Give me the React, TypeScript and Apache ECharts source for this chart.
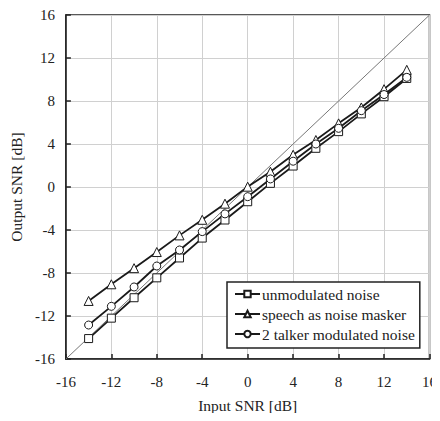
import React, { useEffect, useRef } from "react";
import * as echarts from "echarts";

const inputSNR = [-14, -12, -10, -8, -6, -4, -2, 0, 2, 4, 6, 8, 10, 12, 14];
const unmodulated = [-14.1, -12.2, -10.3, -8.45, -6.6, -4.75, -3.07, -1.37, 0.34, 1.95, 3.6, 5.15, 6.8, 8.4, 10.1];
const speechMasker = [-10.6, -9.05, -7.55, -6.05, -4.5, -3.05, -1.55, 0.03, 1.42, 3.0, 4.37, 5.92, 7.4, 9.1, 10.9];
const twoTalker = [-12.84, -11.1, -9.3, -7.35, -5.86, -4.15, -2.5, -0.9, 0.75, 2.4, 4.0, 5.46, 7.1, 8.6, 10.2];
const diagonal = [-16, 16];

const seriesNames = ["unmodulated noise", "speech as noise masker", "2 talker modulated noise"];

const FONT = "'Liberation Serif', 'Times New Roman', Times, serif";

export default function App() {
  const ref = useRef<HTMLDivElement>(null);
  useEffect(() => {
    if (!ref.current) return;
    const chart = echarts.init(ref.current, null, { renderer: "svg" });
    const pair = (ys: number[]) => inputSNR.map((x, i) => [x, ys[i]]);
    const mk = (name: string, ys: number[], symbol: string) => ({
      name,
      type: "line",
      data: pair(ys),
      symbol,
      symbolSize: symbol === "triangle" ? 9 : 8,
      showSymbol: true,
      lineStyle: { color: "#1a1a1a", width: 1.8 },
      itemStyle: { color: "#ffffff", borderColor: "#1a1a1a", borderWidth: 1 },
      z: 3,
    });
    const axisCommon = {
      type: "value",
      min: -16,
      max: 16,
      interval: 4,
      nameLocation: "middle",
      nameTextStyle: { fontFamily: FONT, fontSize: 15.5, color: "#222" },
      axisLine: { show: true, onZero: false, lineStyle: { color: "#222", width: 1.5 } },
      axisTick: { show: true, inside: true, length: 5, lineStyle: { color: "#222", width: 1.5 } },
      splitLine: { show: true, lineStyle: { color: "#d0d0d0", width: 1 } },
    };
    chart.setOption({
      animation: false,
      textStyle: { fontFamily: FONT },
      grid: {
        left: 63,
        right: 8,
        top: 15,
        bottom: 62,
        show: true,
        borderColor: "#222",
        borderWidth: 1.5,
      },
      legend: {
        data: seriesNames,
        orient: "vertical",
        left: 227,
        top: 282,
        padding: [4, 5, 6, 7],
        itemGap: 4,
        itemWidth: 25,
        itemHeight: 8,
        backgroundColor: "#fff",
        borderColor: "#222",
        borderWidth: 1.5,
        textStyle: { fontFamily: FONT, fontSize: 15.5, color: "#222", padding: [0, 0, 0, -3] },
      },
      xAxis: {
        ...axisCommon,
        name: "Input SNR [dB]",
        nameGap: 38,
        axisLabel: { fontFamily: FONT, fontSize: 15, color: "#222", margin: 15 },
      },
      yAxis: {
        ...axisCommon,
        name: "Output SNR [dB]",
        nameGap: 41,
        axisLabel: { fontFamily: FONT, fontSize: 15, color: "#222", margin: 11 },
      },
      series: [
        {
          name: "diagonal",
          type: "line",
          data: diagonal.map((v) => [v, v]),
          symbol: "none",
          lineStyle: { color: "#777", width: 1 },
          z: 2,
        },
        mk(seriesNames[0], unmodulated, "rect"),
        mk(seriesNames[1], speechMasker, "triangle"),
        mk(seriesNames[2], twoTalker, "circle"),
      ],
    });
    return () => chart.dispose();
  }, []);
  return <div ref={ref} style={{ width: 440, height: 421, margin: -8 }} />;
}
